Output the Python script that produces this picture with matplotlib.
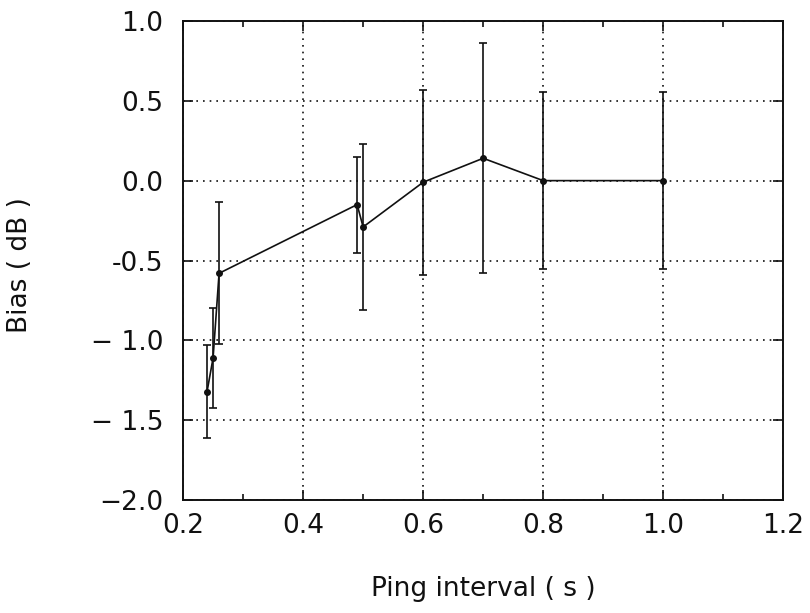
"""Bias versus ping interval, with error bars."""

import matplotlib

matplotlib.use("Agg")
import matplotlib.pyplot as plt
from matplotlib.ticker import MultipleLocator

INK = "#111111"

ping_interval = [0.24, 0.25, 0.26, 0.49, 0.50, 0.60, 0.70, 0.80, 1.00]
bias_db = [-1.32, -1.11, -0.58, -0.15, -0.29, -0.01, 0.14, 0.0, 0.0]
bias_err = [0.29, 0.31, 0.445, 0.30, 0.52, 0.58, 0.72, 0.555, 0.555]

x_ticks = [0.2, 0.4, 0.6, 0.8, 1.0, 1.2]
x_tick_labels = ["0.2", "0.4", "0.6", "0.8", "1.0", "1.2"]
y_ticks = [-2.0, -1.5, -1.0, -0.5, 0.0, 0.5, 1.0]
y_tick_labels = ["\u22122.0", "\u2212 1.5", "\u2212 1.0", "-0.5", "0.0", "0.5", "1.0"]

plt.rcParams["font.family"] = ["DejaVu Sans"]

figure = plt.figure(figsize=(8.1, 6.13), dpi=100)
axis = figure.add_axes((0.226, 0.184, 0.741, 0.782))

axis.errorbar(
    ping_interval,
    bias_db,
    yerr=bias_err,
    color=INK,
    linewidth=1.2,
    elinewidth=1.2,
    capsize=3,
    capthick=1.2,
    marker="o",
    markersize=4,
)

axis.set_xlim(0.2, 1.2)
axis.set_ylim(-2.0, 1.0)
axis.set_xticks(x_ticks, x_tick_labels)
axis.set_yticks(y_ticks, y_tick_labels)
axis.xaxis.set_minor_locator(MultipleLocator(0.1))
axis.tick_params(
    which="both", direction="in", top=True, right=True, colors=INK, labelsize=19, width=1.2
)
axis.tick_params(which="major", length=7)
axis.tick_params(which="minor", length=4)
axis.tick_params(axis="x", pad=9)
axis.tick_params(axis="y", pad=14)
axis.grid(True, which="major", color=INK, linestyle=(0, (1, 3)), linewidth=1.2)
axis.set_axisbelow(True)
for spine in axis.spines.values():
    spine.set_linewidth(1.4)
    spine.set_color(INK)

axis.set_xlabel("Ping interval ( s )", fontsize=19, color=INK)
axis.set_ylabel("Bias ( dB )", fontsize=19, color=INK)
axis.xaxis.set_label_coords(0.5, -0.158)
axis.yaxis.set_label_coords(-0.25, 0.49)

figure.savefig("out.png", dpi=100)
